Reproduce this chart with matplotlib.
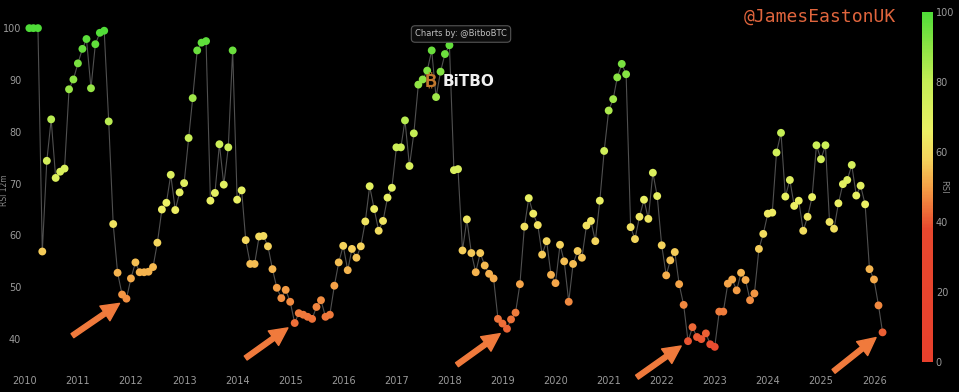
import numpy as np
import pandas as pd
import matplotlib
matplotlib.use('Agg')
import matplotlib.pyplot as plt
import matplotlib.dates as mdates
from matplotlib.colors import LinearSegmentedColormap

# monthly 12m RSI
dates = pd.date_range('2010-01-31', periods=194, freq='ME')
rsi = [100, 100, 100, 56.9, 74.4, 82.4, 71.1, 72.3, 72.9, 88.2,
       90.1, 93.2, 96.0, 97.9, 88.4, 96.9, 99.1, 99.5, 82.0, 62.2,
       52.8, 48.6, 47.8, 51.7, 54.8, 52.9, 52.9, 53.0, 53.9, 58.6,
       65.0, 66.3, 71.7, 64.9, 68.3, 70.1, 78.8, 86.5, 95.7, 97.2,
       97.5, 66.7, 68.2, 77.6, 69.8, 77.0, 95.7, 66.9, 68.7, 59.1,
       54.5, 54.5, 59.8, 59.9, 57.9, 53.5, 49.9, 47.9, 49.5, 47.2,
       43.1, 45.0, 44.7, 44.3, 43.9, 46.2, 47.5, 44.3, 44.7, 50.3,
       54.8, 58.0, 53.3, 57.4, 55.7, 57.9, 62.7, 69.5, 65.1, 60.9,
       62.8, 67.3, 69.2, 77.0, 77.0, 82.2, 73.4, 79.7, 89.1, 90.1,
       91.8, 95.7, 86.7, 91.6, 95.0, 96.7, 72.6, 72.8, 57.1, 63.1,
       56.6, 52.9, 56.6, 54.2, 52.6, 51.7, 43.9, 43.0, 42.0, 43.8,
       45.1, 50.6, 61.7, 67.2, 64.2, 62.0, 56.3, 58.9, 52.4, 50.8,
       58.2, 55.0, 47.2, 54.5, 57.0, 55.7, 61.9, 62.8, 58.9, 66.7,
       76.3, 84.1, 86.3, 90.5, 93.1, 91.1, 61.6, 59.3, 63.6, 66.9,
       63.2, 72.1, 67.6, 58.1, 52.3, 55.2, 56.8, 50.6, 46.6, 39.6,
       42.3, 40.4, 40.0, 41.1, 39.0, 38.5, 45.3, 45.3, 50.7, 51.5,
       49.4, 52.8, 51.4, 47.5, 48.8, 57.4, 60.3, 64.2, 64.4, 76.0,
       79.8, 67.5, 70.7, 65.7, 66.7, 60.9, 63.6, 67.4, 77.4, 74.7,
       77.4, 62.6, 61.3, 66.2, 69.9, 70.7, 73.6, 67.7, 69.6, 66.0,
       53.5, 51.5, 46.5, 41.3]
rsi = np.array(rsi)

# cycle lows the arrows point at: index, tail offset (px)
arrow_idx = [22, 60, 108, 149, 193]
arrow_off = [(-54, -37), (-49, -35), (-50, -36), (-51, -36), (-49, -39)]

cmap = LinearSegmentedColormap.from_list('rsi', [
    (0.0, '#e8402c'), (0.38, '#e8482e'), (0.5, '#f5a046'),
    (0.58, '#f5d35c'), (0.66, '#ecf064'), (0.8, '#c5ee55'),
    (0.9, '#8ee444'), (1.0, '#4fdc38')])

W, H = 959, 392
fig = plt.figure(figsize=(W/100, H/100), dpi=100, facecolor='black')
ax = fig.add_axes([24/W, 1 - 365/H, 876/W, 355/H])
ax.set_facecolor('black')

ax.plot(dates, rsi, color='#505050', lw=0.8, zorder=1)
sc = ax.scatter(dates, rsi, c=rsi, cmap=cmap, vmin=0, vmax=100, s=32,
                linewidths=0, zorder=2)

ax.set_ylim(35, 103.5)
ax.set_xlim(pd.Timestamp('2009-12-25'), pd.Timestamp('2026-06-28'))
ax.set_yticks(range(40, 101, 10))
ax.xaxis.set_major_locator(mdates.YearLocator())
ax.xaxis.set_major_formatter(mdates.DateFormatter('%Y'))
ax.tick_params(colors='#9a9a9a', labelsize=7, length=0)
ax.tick_params(axis='x', pad=8)
ax.tick_params(axis='y', pad=2)
for s in ax.spines.values():
    s.set_visible(False)

fig.text(5/W, 1 - 190/H, 'RSI 12m', rotation=90, color='#8a8a8a',
         fontsize=5.5, ha='center', va='center')

for i, off in zip(arrow_idx, arrow_off):
    ax.annotate('', xy=(dates[i], rsi[i]), xytext=off, textcoords='offset pixels',
                arrowprops=dict(arrowstyle='simple,head_length=0.8,head_width=0.8,tail_width=0.22',
                                color='#f07a3c', shrinkA=0, shrinkB=6, mutation_scale=16))

# colorbar
cax = fig.add_axes([922/W, 1 - 362/H, 11/W, 350/H])
cb = fig.colorbar(sc, cax=cax)
cb.outline.set_visible(False)
cb.set_ticks(range(0, 101, 20))
cax.tick_params(colors='#9a9a9a', labelsize=7, length=0, pad=2)
fig.text(944/W, 1 - 187/H, 'RSI', color='#8a8a8a', fontsize=6,
         rotation=270, ha='center', va='center')

# watermarks
fig.text(820/W, 1 - 17/H, '@JamesEastonUK', family='DejaVu Sans Mono',
         fontsize=13, color='#e0653d', ha='center', va='center')
fig.text(461/W, 1 - 34/H, 'Charts by: @BitboBTC', fontsize=6, color='#c0c0c0',
         ha='center', va='center',
         bbox=dict(boxstyle='round,pad=0.45', fc='#0c0c0c', ec='#555555', lw=0.8))
fig.text(431/W, 1 - 82/H, '\u20bf', fontsize=13, color='#c0782e', weight='bold',
         family=['Inter', 'Noto Sans', 'Roboto', 'Open Sans', 'Lato', 'DejaVu Sans'],
         ha='center', va='center')
fig.text(469/W, 1 - 82/H, 'BiTBO', fontsize=11, color='#f0f0f0', weight='bold',
         ha='center', va='center')

fig.savefig('out.png', dpi=100, facecolor='black')
